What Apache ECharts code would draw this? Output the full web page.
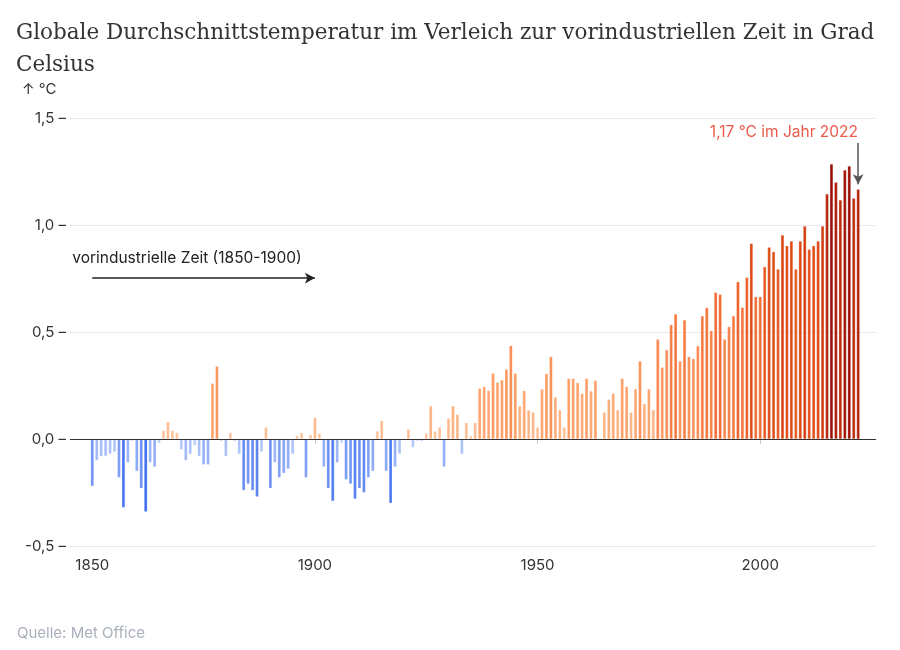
<!DOCTYPE html>
<html>
<head>
<meta charset="utf-8">
<script src="https://cdn.jsdelivr.net/npm/echarts@6/dist/echarts.min.js"></script>
<style>
  body { margin: 0; background: #fff; }
  #chart { width: 900px; height: 650px; }
</style>
</head>
<body>
<div id="chart"></div>
<script>
// Jahre 1850 bis 2022
var firstYear = 1850;
var anomalies1850 = [-0.22, -0.10, -0.08, -0.08, -0.07, -0.06, -0.18, -0.32, -0.11, -0.01];
var anomalies1860 = [-0.15, -0.23, -0.34, -0.11, -0.13, -0.02, 0.04, 0.08, 0.04, 0.03];
var anomalies1870 = [-0.05, -0.10, -0.07, -0.03, -0.08, -0.12, -0.12, 0.26, 0.34, -0.01];
var anomalies1880 = [-0.08, 0.03, -0.01, -0.07, -0.24, -0.21, -0.24, -0.27, -0.06, 0.055];
var anomalies1890 = [-0.23, -0.11, -0.18, -0.16, -0.14, -0.07, 0.016, 0.03, -0.18, 0.02];
var anomalies1900 = [0.10, 0.026, -0.13, -0.23, -0.29, -0.11, -0.02, -0.19, -0.21, -0.28];
var anomalies1910 = [-0.23, -0.25, -0.18, -0.15, 0.037, 0.086, -0.15, -0.30, -0.13, -0.07];
var anomalies1920 = [-0.005, 0.045, -0.04, -0.01, -0.01, 0.026, 0.154, 0.037, 0.055, -0.13];
var anomalies1930 = [0.097, 0.154, 0.115, -0.07, 0.076, 0.014, 0.076, 0.237, 0.245, 0.226];
var anomalies1940 = [0.307, 0.265, 0.276, 0.326, 0.436, 0.307, 0.154, 0.226, 0.135, 0.126];
var anomalies1950 = [0.055, 0.234, 0.305, 0.385, 0.195, 0.136, 0.055, 0.283, 0.283, 0.263];
var anomalies1960 = [0.213, 0.283, 0.224, 0.274, 0.003, 0.125, 0.185, 0.213, 0.136, 0.283];
var anomalies1970 = [0.245, 0.125, 0.234, 0.364, 0.165, 0.234, 0.136, 0.466, 0.335, 0.416];
var anomalies1980 = [0.534, 0.584, 0.364, 0.556, 0.385, 0.375, 0.435, 0.575, 0.614, 0.506];
var anomalies1990 = [0.685, 0.676, 0.466, 0.525, 0.575, 0.735, 0.615, 0.755, 0.914, 0.665];
var anomalies2000 = [0.665, 0.805, 0.896, 0.875, 0.794, 0.953, 0.903, 0.925, 0.794, 0.925];
var anomalies2010 = [0.995, 0.886, 0.903, 0.925, 0.995, 1.145, 1.285, 1.199, 1.117, 1.257];
var anomalies2020 = [1.276, 1.125, 1.167];

var xTickYears = [1850, 1900, 1950, 2000];
var yTicks = [-0.5, 0, 0.5, 1, 1.5];

var values = [].concat(anomalies1850, anomalies1860, anomalies1870, anomalies1880,
  anomalies1890, anomalies1900, anomalies1910, anomalies1920, anomalies1930,
  anomalies1940, anomalies1950, anomalies1960, anomalies1970, anomalies1980,
  anomalies1990, anomalies2000, anomalies2010, anomalies2020);

function hex(c) { return [parseInt(c.substr(1, 2), 16), parseInt(c.substr(3, 2), 16), parseInt(c.substr(5, 2), 16)]; }
function mix(a, b, t) {
  var x = hex(a), y = hex(b);
  return "rgb(" + x.map(function (v, i) { return Math.round(v + (y[i] - v) * t); }).join(",") + ")";
}
var warmStops = [[0, "#fdc8a2"], [0.3, "#fe9c62"], [0.6, "#f6763c"], [0.9, "#e24c16"], [1.1, "#c2300c"], [1.3, "#980c08"]];
function barColor(v) {
  if (v < 0) return mix("#c8d7fb", "#3b6cf2", Math.min(1, -v / 0.34));
  for (var i = 1; i < warmStops.length; i++) {
    if (v <= warmStops[i][0]) {
      var a = warmStops[i - 1], b = warmStops[i];
      return mix(a[1], b[1], (v - a[0]) / (b[0] - a[0]));
    }
  }
  return warmStops[warmStops.length - 1][1];
}

var barData = values.map(function (v, i) {
  return { value: [firstYear + i, v], itemStyle: { color: barColor(v) } };
});

var sans = "Inter";
var chartDom = document.getElementById("chart");
var myChart = echarts.init(chartDom);
var option;

option = {
  animation: false,
  title: [
    {
      text: "Globale Durchschnittstemperatur im Verleich zur vorindustriellen Zeit in Grad\nCelsius",
      left: 11,
      top: 12,
      textStyle: { fontFamily: "DejaVu Serif", fontSize: 21.5, fontWeight: "normal", color: "#333", lineHeight: 32 },
    },
    {
      text: "↑ °C",
      left: 17,
      top: 77,
      textStyle: { fontFamily: sans, fontSize: 15, fontWeight: "normal", color: "#333" },
    },
    {
      text: "Quelle: Met Office",
      left: 12,
      top: 621,
      textStyle: { fontFamily: sans, fontSize: 15, fontWeight: "normal", color: "#a9b0bb" },
    },
  ],
  grid: { left: 70, right: 24, top: 118, bottom: 104 },
  xAxis: {
    type: "value",
    min: 1845,
    max: 2026,
    splitLine: { show: false },
    axisLine: { lineStyle: { color: "#ccc" } },
    axisTick: { show: true, customValues: xTickYears, length: 5, lineStyle: { color: "#ccc" } },
    axisLabel: {
      customValues: xTickYears,
      color: "#333",
      fontFamily: sans,
      fontSize: 15,
      margin: 12,
      formatter: function (v) { return String(v); },
    },
  },
  yAxis: {
    type: "value",
    min: -0.5,
    max: 1.5,
    interval: 0.5,
    axisLine: { show: false },
    axisTick: { show: false },
    splitLine: { lineStyle: { color: "#e9e9e9" } },
    axisLabel: {
      color: "#333",
      fontFamily: sans,
      fontSize: 15,
      margin: 4,
      formatter: function (v) {
        return (v === 0 ? "0,0" : v.toFixed(1).replace(".", ",")) + " –";
      },
    },
  },
  series: [
    {
      type: "bar",
      barWidth: 3.2,
      data: barData,
      itemStyle: { borderColor: "rgba(255,255,255,0.6)", borderWidth: 0.4 },
      markLine: {
        silent: true,
        symbol: "none",
        label: { show: false },
        data: [
          [
            { coord: [1845, 0], lineStyle: { color: "#333", width: 1.2, type: "solid" } },
            { coord: [2026, 0] },
          ],
          [
            {
              coord: [1850, 0.752],
              symbol: "none",
              lineStyle: { color: "#222", width: 1.5, type: "solid" },
              label: {
                show: true,
                position: "start",
                formatter: "vorindustrielle Zeit (1850-1900)",
                color: "#222",
                fontFamily: sans,
                fontSize: 15.5,
                align: "left",
                offset: [-15, -20],
              },
            },
            { coord: [1900, 0.752], symbol: "arrow", symbolSize: [8, 10] },
          ],
          [
            { coord: [2022, 1.383], symbol: "none", lineStyle: { color: "#555", width: 1.5, type: "solid" } },
            { coord: [2022, 1.19], symbol: "arrow", symbolSize: [8, 10] },
          ],
        ],
      },
    },
  ],
  graphic: [
    {
      type: "text",
      right: 42,
      top: 124,
      style: { text: "1,17 °C im Jahr 2022", fill: "#ec5a4c", font: "15.5px Inter" },
    },
  ],
};

option && myChart.setOption(option);
</script>
</body>
</html>
